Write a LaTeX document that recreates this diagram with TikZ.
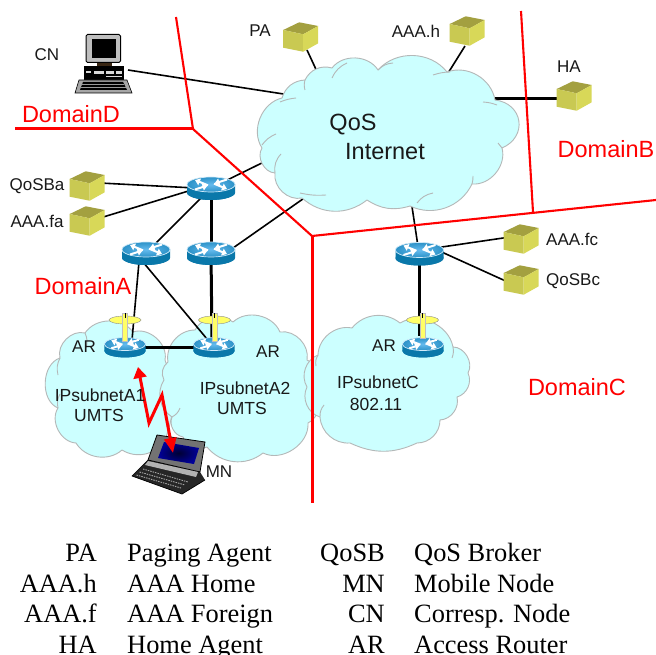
\documentclass[tikz,border=0pt]{standalone}
\usepackage{fontspec}
\setmainfont{Liberation Sans}
\newfontfamily\legendfont{Liberation Serif}
\usetikzlibrary{arrows.meta,calc}
\definecolor{cloudc}{HTML}{CCFFFF}
\definecolor{cloudl}{HTML}{B4B8B8}
\definecolor{boxt}{HTML}{A3A040}
\definecolor{boxl}{HTML}{C9C952}
\definecolor{boxr}{HTML}{D8D858}
\definecolor{rside}{HTML}{0A78AA}
\definecolor{rtopin}{HTML}{66BBEE}
\definecolor{rtopout}{HTML}{2C92C8}
\definecolor{anty}{HTML}{FFFF66}
\definecolor{redl}{HTML}{FF0000}
\tikzset{
  lab/.style={font=\fontsize{17}{18}\selectfont,inner sep=0pt,text=black!90},
  bigl/.style={font=\fontsize{23.5}{24}\selectfont,inner sep=0pt,text=black!90},
  dom/.style={font=\fontsize{23.5}{24}\selectfont,inner sep=0pt,text=redl},
  sublab/.style={font=\fontsize{17.5}{19}\selectfont,inner sep=0pt,text=black!90},
  legk/.style={font=\legendfont\fontsize{26.4}{28}\selectfont,inner sep=0pt,anchor=base east},
  legv/.style={font=\legendfont\fontsize{26.4}{28}\selectfont,inner sep=0pt,anchor=base west},
  thinl/.style={draw=black,line width=1.6pt},
  thickl/.style={draw=black,line width=3pt},
  redthin/.style={draw=redl,line width=2.1pt},
  redthick/.style={draw=redl,line width=3pt},
  cloudp/.style={fill=cloudc,draw=cloudl,line width=.9pt,line join=round,every to/.style={bend left=60}},
  tail/.style={draw=cloudl,line width=.9pt},
  wa/.style={draw=white,line width=2pt,-{Triangle[length=5pt,width=7pt]}},
}
\newcommand{\cube}[2]{%
 \begin{scope}[shift={(#1,#2)}]
  \fill[boxt] (-17.3,-7) -- (-1.3,-14.7) -- (17.7,-11) -- (2.7,-2.7) -- cycle;
  \fill[boxl] (-17.3,-7) -- (2.7,-2.7) -- (2.7,14.7) -- (-17.3,10.7) -- cycle;
  \fill[boxr] (2.7,-2.7) -- (17.7,-11) -- (17.7,6.3) -- (2.7,14.7) -- cycle;
 \end{scope}}
\newcommand{\router}[3]{%
 \begin{scope}[shift={(#1,#2)},scale=#3]
  \fill[rside] (-24,-4) -- (-24,4) arc[start angle=180,end angle=360,x radius=24,y radius=-7.5] -- (24,-4) -- cycle;
  \fill[rside] (0,4) ellipse[x radius=24,y radius=7.5];
  \shade[inner color=rtopin,outer color=rtopout] (0,-4) ellipse[x radius=24,y radius=7.5];
  \draw[white!70!rtopin,line width=.7pt] (0,-4) ellipse[x radius=24,y radius=7.5];
  \draw[wa] (-3,-3.2) -- (-16,-8.5);
  \draw[wa] (3,-4.8) -- (16,0.5);
  \draw[wa] (16,-9) -- (3.5,-5);
  \draw[wa] (-16,1) -- (-3.5,-3);
 \end{scope}}
\newcommand{\antenna}[2]{%
 \fill[anty,draw=black!45,line width=.4pt] (#1,320) ellipse[x radius=16,y radius=4];
 \fill[anty,draw=black!25,line width=.3pt] ({#1-2.5},313) rectangle ({#1+2.5},#2);
 \draw[black,line width=.9pt] (#1,313) -- (#1,318);}
\begin{document}
\begin{tikzpicture}[x=1pt,y=-1pt]
\useasboundingbox (0,0) rectangle (656,655);
\fill[white] (0,0) rectangle (656,655);
% connector ends
\coordinate (cn) at (128,70);      \coordinate (inetcn) at (290,95);
\coordinate (pa) at (307,50);      \coordinate (inetpa) at (320,78);
\coordinate (aaah) at (465,46);    \coordinate (inetaaah) at (445,78);
\coordinate (ha) at (560,99);      \coordinate (inetha) at (490,99);
\coordinate (rtop) at (211,188);   \coordinate (inetr) at (270,159);
\coordinate (rb) at (211,253);     \coordinate (rbp) at (233,248); \coordinate (inetrb) at (310,194);
\coordinate (ra) at (146,253);
\coordinate (rc) at (419,253);     \coordinate (inetrc) at (411,200);
\coordinate (qosba) at (100,183);  \coordinate (aaafa) at (100,218);
\coordinate (rtopw) at (195,188);  \coordinate (rtopw2) at (195,189);
\coordinate (aaafc) at (510,237);  \coordinate (qosbc) at (510,283);
\coordinate (rce) at (435,248);    \coordinate (rce2) at (435,249);
\coordinate (ar1) at (125,347);    \coordinate (ar2) at (214,347);  \coordinate (arc) at (423,347);
\coordinate (ar1t) at (132,340);   \coordinate (ar2t) at (207,339);
\coordinate (ra1) at (139,262);    \coordinate (ra2) at (143,262);
\coordinate (mn) at (173,453);     \coordinate (z1) at (162,395); \coordinate (z2) at (149,423); \coordinate (art) at (138,367);
% subnet clouds
\path[cloudp] (60,358) to (85,333) to[bend left=55] (133,332) to (165,360) to[bend left=20] (165,440) to[bend left=45] (122,450) to[bend left=50] (76,443) to[bend left=60] (58,408) to[bend left=70] (60,358) -- cycle;
\path[cloudp] (168,362) to[bend left=50] (195,330) to[bend left=50] (233,322) to[bend left=55] (280,332) to[bend left=55] (307,360) to[bend left=60] (312,390) to[bend left=60] (308,423) to[bend left=60] (263,453) to[bend left=45] (207,447) to[bend left=45] (183,437) to[bend left=50] (172,417) to[bend left=45] (164,380) to[bend left=40] (168,362) -- cycle;
\path[cloudp] (318,355) to[bend left=50] (352,328) to[bend left=45] (400,323) to[bend left=55] (453,347) to[bend left=60] (468,373) to[bend left=50] (457,397) to[bend left=50] (440,420) to[bend left=45] (417,443) to[bend left=25] (350,443) to[bend left=45] (320,417) to[bend left=50] (307,387) to[bend left=50] (318,355) -- cycle;
\draw[tail] (60,358) to[bend right=20] (58,375);
\draw[tail] (85,333) to[bend left=20] (86,348);
\draw[tail] (58,408) to[bend left=20] (60,394);
\draw[tail] (318,355) to[bend right=20] (316,366);
\draw[tail] (320,417) to[bend left=20] (324,405);
\draw[tail] (453,347) to[bend left=15] (452,358);
\draw[tail] (172,417) to[bend right=20] (180,408);
% connectors
\draw[thinl] (cn) -- (inetcn);
\draw[thinl] (pa) -- (inetpa);
\draw[thinl] (aaah) -- (inetaaah);
\draw[thickl] (ha) -- (inetha);
\draw[thinl] (rtop) -- (inetr);
\draw[thinl] (rbp) -- (inetrb);
\draw[thinl] (rc) -- (inetrc);
\draw[thinl] (qosba) -- (rtopw);
\draw[thinl] (aaafa) -- (rtopw2);
\draw[thinl] (rce) -- (aaafc);
\draw[thinl] (rce2) -- (qosbc);
\draw[thinl] (rtop) -- (ra);
\draw[thickl] (rtop) -- (rb);
\draw[thinl] (ra1) -- (ar1t);
\draw[thinl] (ra2) -- (ar2t);
\draw[thickl] (rb) -- (212,340);
\draw[thickl] (ar1) -- (ar2);
\draw[thickl] (rc) -- (419,336);
% Internet cloud (counter-clockwise on the page, so the puffs bend right)
\path[cloudp] (282,98) to[bend right=55] (262,148) to[bend right=60] (275,173) to[bend right=55] (302,198) to[bend right=40] (367,200) to[bend right=25] (410,206) to[bend right=45] (472,184) to[bend right=55] (502,148) to[bend right=75,looseness=1.5] (495,100) to[bend right=50] (447,72) to[bend right=50] (378,70) to[bend right=55] (332,68) to[bend right=40] (305,80) to[bend right=35] (282,98) -- cycle;
\draw[tail] (296,98) to[bend right=8] (280,102);
\draw[tail] (305,80) to[bend right=15] (305,90);
\draw[tail] (332,78) to[bend left=20] (347,63);
\draw[tail] (378,70) to[bend left=20] (393,63);
\draw[tail] (433,75) to[bend left=8] (450,72);
\draw[tail] (483,102) to[bend left=8] (497,105);
\draw[tail] (498,143) to[bend left=8] (502,148);
\draw[tail] (472,184) to[bend right=8] (473,176);
\draw[tail] (433,193) to[bend right=20] (417,203);
\draw[tail] (326,195) to[bend left=8] (300,193);
\draw[tail] (275,173) to[bend left=25] (281,154);
\draw[tail] (262,145) to[bend left=15] (276,134);
% boxes
\cube{300.5}{37}\cube{467}{31}\cube{574}{96}\cube{87}{186}\cube{87}{221}\cube{521}{239}\cube{521}{280}
% routers
\router{211}{188.5}{1}\router{146}{253.5}{1}\router{211}{253.5}{1}\router{419.5}{254}{1}
\router{125}{347.5}{.86}\router{214}{347.5}{.86}\router{423}{347.5}{.86}
\antenna{125}{341}\antenna{214.5}{341}\antenna{422.5}{338}
% computer
\fill[black!70!brown] (97,63) rectangle (112,68);
\fill[black!25,draw=black,line width=1pt,rounded corners=1.5pt] (86,34.5) rectangle (120.5,62.5);
\fill[black] (92,39) rectangle (116,58);
\fill[black] (84,66) rectangle (124,80);
\fill[white!85!black] (94,71) rectangle (104,74.5);
\fill[white!85!black] (106,71) rectangle (114,74);
\fill[white!85!black] (116,71) rectangle (122,74);
\fill[white!85!black] (86,71) rectangle (91,73);
\fill[white!85!black] (106,76) rectangle (122,77);
\fill[black!35,draw=black,line width=.6pt] (79,80) -- (127,80) -- (132,93) -- (75,93) -- cycle;
\fill[black] (83,82) -- (123,82) -- (127,90) -- (80,90) -- cycle;
\draw[white!60!black,line width=.4pt] (82,84.5) -- (124,84.5) (81,87) -- (126,87);
% laptop
\fill[black!85] (148,460) -- (200,472) -- (205,480) -- (182,494) -- (132,476) -- cycle;
\fill[black!55] (157,435) -- (205,442) -- (200,472) -- (148,460) -- cycle;
\draw[black,line width=.8pt,line join=round] (157,435) -- (205,442) -- (200,472) -- (148,460) -- cycle;
\shade[inner color=black!80!blue,outer color=blue!60!black] (164,442) -- (199,448) -- (194,464) -- (158,458) -- cycle;
\fill[black!30] (148,461) -- (198,472) -- (196,477) -- (145,465) -- cycle;
\draw[white!65!black,line width=.9pt,dash pattern=on 1.5pt off 1pt] (143,469) -- (188,482) (139.5,472) -- (185,485) (136.5,475) -- (181,488);
\draw[black,line width=.7pt,line join=round] (148,460) -- (132,476) -- (182,494) -- (205,480);
% wireless
\draw[redthick,{Triangle[length=11pt,width=13pt]}-{Triangle[length=15pt,width=12pt]},line join=miter] (art) -- (z2) -- (z1) -- (mn);
% red domain lines
\draw[redthin] (176,17) -- (193,129);
\draw[redthick] (15,129) -- (193,129);
\draw[redthin] (193,129) -- (312,236);
\draw[redthick] (312,236) -- (312,503);
\draw[redthin] (312,236) -- (656,200);
\draw[redthin] (521,11) -- (533,212);
% labels
\node[lab] (lcn) at (47,55) {CN};
\node[lab] (lpa) at (260,31) {PA};
\node[lab] (lah) at (416,31) {AAA.h};
\node[lab] (lha) at (569,67) {HA};
\node[lab] (lqa) at (37,186) {QoSBa};
\node[lab] (lfa) at (37,221) {AAA.fa};
\node[lab,anchor=west] (lfc) at (546,239) {AAA.fc};
\node[lab,anchor=west] (lqc) at (546,281) {QoSBc};
\node[lab] (lar1) at (84,347) {AR};
\node[lab] (lar2) at (268,352) {AR};
\node[lab] (larc) at (384,346) {AR};
\node[lab] (lmn) at (219,472) {MN};
\node[bigl] (lqos) at (353,125) {QoS};
\node[bigl] (lint) at (385,152) {Internet};
\node[dom] (dd) at (71,114) {DomainD};
\node[dom] (db) at (606,149) {DomainB};
\node[dom] (da) at (83,286) {DomainA};
\node[dom] (dc) at (577,387) {DomainC};
\node[sublab] (s1) at (100,395) {IPsubnetA1};
\node[sublab] (s1b) at (99,415) {UMTS};
\node[sublab] (s2) at (245,388) {IPsubnetA2};
\node[sublab] (s2b) at (242,408) {UMTS};
\node[sublab] (s3) at (378,382) {IPsubnetC};
\node[sublab] (s3b) at (376,404) {802.11};
% legend
\node[legk] (k1) at (97,561) {PA};   \node[legv] (v1) at (127,561) {Paging Agent};
\node[legk] (k2) at (97,592) {AAA.h};\node[legv] (v2) at (127,592) {AAA Home};
\node[legk] (k3) at (97,622) {AAA.f};\node[legv] (v3) at (127,622) {AAA Foreign};
\node[legk] (k4) at (97,653) {HA};   \node[legv] (v4) at (127,653) {Home Agent};
\node[legk] (k5) at (385,561) {QoSB};\node[legv] (v5) at (414,561) {QoS Broker};
\node[legk] (k6) at (385,592) {MN};  \node[legv] (v6) at (414,592) {Mobile Node};
\node[legk] (k7) at (385,622) {CN};  \node[legv] (v7) at (414,622) {Corresp. Node};
\node[legk] (k8) at (385,653) {AR};  \node[legv] (v8) at (414,653) {Access Router};
\end{tikzpicture}
\end{document}
